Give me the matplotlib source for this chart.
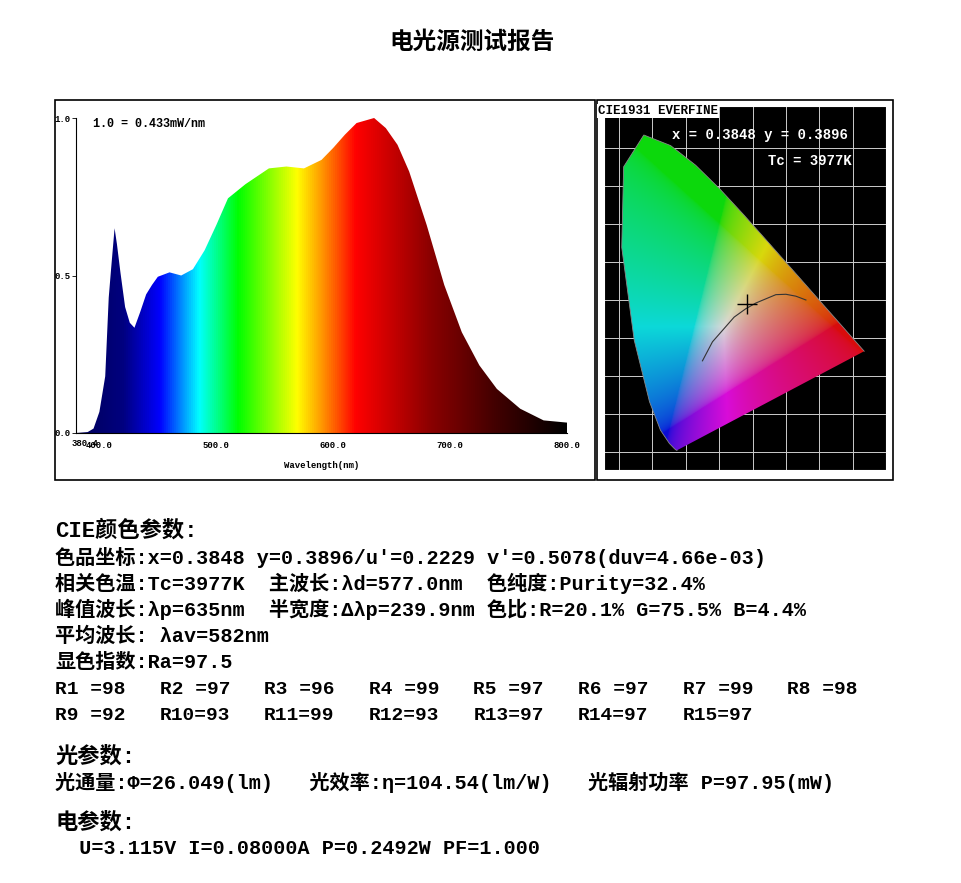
import matplotlib
matplotlib.use("Agg")
import matplotlib.pyplot as plt
import numpy as np
from matplotlib.colors import LinearSegmentedColormap
from matplotlib.patches import Rectangle, Polygon

# spectrum (relative, 1.0 = 0.433 mW/nm)
wl = [380, 390, 395, 400, 405, 408, 410, 413, 415, 418, 422, 426, 430, 435, 440, 445, 450,
      460, 470, 480, 490, 500, 510, 525, 545, 560, 575, 590, 600, 610, 620, 635, 645,
      655, 665, 680, 695, 710, 725, 740, 760, 780, 800]
rel = [0.0, 0.003, 0.014, 0.067, 0.18, 0.43, 0.52, 0.65, 0.60, 0.51, 0.40, 0.35, 0.334, 0.385,
       0.44, 0.47, 0.496, 0.51, 0.50, 0.52, 0.58, 0.66, 0.745, 0.79, 0.84, 0.846, 0.84,
       0.867, 0.905, 0.947, 0.984, 1.0, 0.968, 0.915, 0.83, 0.66, 0.47, 0.32, 0.215,
       0.14, 0.077, 0.04, 0.033]
x_ticks = [400, 500, 600, 700, 800]
x_labels = ["400.0", "500.0", "600.0", "700.0", "800.0"]

# CIE 1931 spectral locus (approx)
locus_x = [0.1741, 0.1738, 0.1721, 0.1666, 0.1510, 0.1241, 0.0913, 0.0454, 0.0082, 0.0139,
           0.0743, 0.1547, 0.2296, 0.3016, 0.3731, 0.4441, 0.5125, 0.5752, 0.6270, 0.6658,
           0.6915, 0.7079, 0.7190, 0.7347]
locus_y = [0.0050, 0.0049, 0.0048, 0.0086, 0.0227, 0.0578, 0.1327, 0.2950, 0.5384, 0.7502,
           0.8338, 0.8059, 0.7543, 0.6923, 0.6245, 0.5547, 0.4866, 0.4242, 0.3725, 0.3340,
           0.3083, 0.2920, 0.2809, 0.2653]
planck_x = [0.25, 0.28, 0.31, 0.345, 0.38, 0.41, 0.44, 0.47, 0.50, 0.53, 0.56]
planck_y = [0.24, 0.29, 0.32, 0.355, 0.377, 0.392, 0.403, 0.414, 0.415, 0.41, 0.40]
pt_x, pt_y = 0.3848, 0.3896

W, H = 962, 883
fig = plt.figure(figsize=(W / 100, H / 100), dpi=100)
fig.patch.set_facecolor("white")

def fx(px):
    return px / W

def fy(py):
    return 1 - py / H

mono = ["Liberation Mono", "Noto Sans CJK SC"]
cjk = ["Noto Sans CJK SC", "Liberation Mono"]

fig.text(fx(472), fy(42), "电光源测试报告", family=cjk, fontsize=17, weight="bold",
         ha="center", va="center")

# frames
fig.add_artist(Rectangle((fx(55), fy(480)), fx(540), 380 / H, transform=fig.transFigure,
                         fill=False, ec="black", lw=1.2))
fig.add_artist(Rectangle((fx(597), fy(480)), fx(296), 380 / H, transform=fig.transFigure,
                         fill=False, ec="black", lw=1.2))

# spectrum axes
ax = fig.add_axes([fx(76), fy(433), fx(567 - 76), (433 - 118) / H])
cmap = LinearSegmentedColormap.from_list("spec", [
    (0.0, (0.0, 0.0, 0.35)), (0.095, (0.0, 0.0, 0.5)), (0.17, (0.0, 0.0, 1.0)),
    (0.25, (0.0, 1.0, 1.0)), (0.33, (0.0, 1.0, 0.0)), (0.45, (1.0, 1.0, 0.0)),
    (0.5, (1.0, 0.6, 0.0)), (0.57, (1.0, 0.0, 0.0)), (0.72, (0.55, 0.0, 0.0)),
    (0.86, (0.25, 0.0, 0.0)), (1.0, (0.0, 0.0, 0.0))])
grad = np.linspace(0, 1, 512)[None, :]
im = ax.imshow(grad, extent=[380, 800, 0, 1.02], aspect="auto", cmap=cmap, zorder=1)
poly = Polygon(list(zip(wl, rel)) + [(800, 0), (380, 0)], closed=True,
               transform=ax.transData, fc="none", ec="none")
ax.add_patch(poly)
im.set_clip_path(poly)
ax.set_xlim(380, 800)
ax.set_ylim(0, 1.0)
for s in ["top", "right"]:
    ax.spines[s].set_visible(False)
ax.spines["left"].set_linewidth(0.8)
ax.spines["bottom"].set_linewidth(0.8)
ax.set_xticks(x_ticks)
ax.set_xticklabels(x_labels, family="Liberation Mono", weight="bold", fontsize=6.5)
ax.set_yticks([0.0, 0.5, 1.0])
ax.set_yticklabels(["0.0", "0.5", "1.0"], family="Liberation Mono", weight="bold", fontsize=6.5)
ax.tick_params(axis="y", length=3, width=0.6, pad=1)
ax.tick_params(axis="x", length=0, pad=6)
ax.text(388, -0.02, "380.4", transform=ax.transData, ha="center", va="top",
        family="Liberation Mono", weight="bold", fontsize=6.5)
ax.set_xlabel("Wavelength(nm)", family="Liberation Mono", weight="bold", fontsize=6.5, labelpad=8)
ax.text(0.035, 0.98, "1.0 = 0.433mW/nm", transform=ax.transAxes, family="Liberation Mono",
        weight="bold", fontsize=8.5, va="center")

# CIE diagram
cx = fig.add_axes([fx(604), fy(470), fx(886 - 604), (470 - 106) / H])
cx.set_facecolor("black")
cx.set_xlim(-0.045, 0.80)
cx.set_ylim(-0.047, 0.91)
gx, gy = np.meshgrid(np.linspace(0, 0.75, 300), np.linspace(0, 0.85, 340))
gz = np.clip(1 - gx - gy, 0, None)
Y = 1.0
X = gx / np.maximum(gy, 1e-3) * Y
Z = gz / np.maximum(gy, 1e-3) * Y
r = 3.2406 * X - 1.5372 * Y - 0.4986 * Z
g = -0.9689 * X + 1.8758 * Y + 0.0415 * Z
b = 0.0557 * X - 0.2040 * Y + 1.0570 * Z
rgb = np.stack([r, g, b], -1)
rgb = np.clip(rgb, 0, None)
rgb = rgb / np.maximum(rgb.max(-1, keepdims=True), 1e-6)
rgb = np.clip(rgb, 0, 1) ** (1 / 2.2)
rgb = rgb * 0.8 + 0.05
cim = cx.imshow(rgb, extent=[0, 0.75, 0, 0.85], origin="lower", aspect="auto", zorder=1)
lpoly = Polygon(list(zip(locus_x, locus_y)), closed=True, transform=cx.transData,
                fc="none", ec="none")
cx.add_patch(lpoly)
cim.set_clip_path(lpoly)
for v in np.arange(0, 0.85, 0.1):
    cx.axvline(v, color="#cccccc", lw=0.7, zorder=0)
for v in np.arange(0, 0.9, 0.1):
    cx.axhline(v, color="#cccccc", lw=0.7, zorder=0)
cx.plot(locus_x, locus_y, color="#888888", lw=0.6, zorder=2)
cx.plot(planck_x, planck_y, color="#333333", lw=0.8, zorder=2)
cx.plot(pt_x, pt_y, marker="+", color="black", ms=14, mew=1, zorder=3)
cx.set_xticks([])
cx.set_yticks([])
for s in cx.spines.values():
    s.set_color("white")
fig.text(fx(760), fy(135), "x = 0.3848 y = 0.3896", color="white", family="Liberation Mono",
         weight="bold", fontsize=10, ha="center", va="center")
fig.text(fx(810), fy(161), "Tc = 3977K", color="white", family="Liberation Mono",
         weight="bold", fontsize=10, ha="center", va="center")
fig.text(fx(598), fy(111), "CIE1931 EVERFINE", family="Liberation Mono", weight="bold",
         fontsize=9, va="center", bbox=dict(fc="white", ec="none", pad=1))

# parameter text
lines = [
    (531, "CIE颜色参数:", 16),
    (557, "色品坐标:x=0.3848 y=0.3896/u'=0.2229 v'=0.5078(duv=4.66e-03)", 14.5),
    (583, "相关色温:Tc=3977K  主波长:λd=577.0nm  色纯度:Purity=32.4%", 14.5),
    (609, "峰值波长:λp=635nm  半宽度:Δλp=239.9nm 色比:R=20.1% G=75.5% B=4.4%", 14.5),
    (636, "平均波长: λav=582nm", 14.5),
    (662, "显色指数:Ra=97.5", 14.5),
    (757, "光参数:", 16),
    (782, "光通量:Φ=26.049(lm)   光效率:η=104.54(lm/W)   光辐射功率 P=97.95(mW)", 14.5),
    (823, "电参数:", 16),
    (849, "  U=3.115V I=0.08000A P=0.2492W PF=1.000", 14.5),
]
for py, txt, fs in lines:
    fig.text(fx(55), fy(py), txt, family=mono, weight="bold", fontsize=fs, va="center")

r_labels = ["R1 =98", "R2 =97", "R3 =96", "R4 =99", "R5 =97", "R6 =97", "R7 =99", "R8 =98",
            "R9 =92", "R10=93", "R11=99", "R12=93", "R13=97", "R14=97", "R15=97"]
for i, lab in enumerate(r_labels):
    row, col = divmod(i, 8)
    fig.text(fx(55 + col * 104.6), fy(690 + row * 26), lab, family=mono, weight="bold",
             fontsize=14, va="center")

fig.savefig("out.png", dpi=100)
